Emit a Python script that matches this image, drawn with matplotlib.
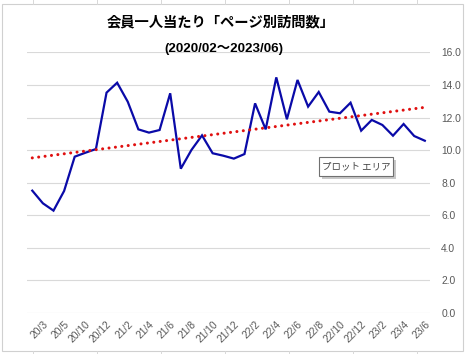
import numpy as np
import matplotlib
matplotlib.use('Agg')
import matplotlib.pyplot as plt
from matplotlib.patches import Rectangle

# monthly values, 2020/02 - 2023/06 (one month between 20/5 and 20/10 only)
months = ["20/2", "20/3", "20/4", "20/5", "20/9", "20/10", "20/11", "20/12",
          "21/1", "21/2", "21/3", "21/4", "21/5", "21/6", "21/7", "21/8",
          "21/9", "21/10", "21/11", "21/12", "22/1", "22/2", "22/3", "22/4",
          "22/5", "22/6", "22/7", "22/8", "22/9", "22/10", "22/11", "22/12",
          "23/1", "23/2", "23/3", "23/4", "23/5", "23/6"]
visits = [7.50, 6.72, 6.27, 7.48, 9.59, 9.83, 10.06, 13.53,
          14.14, 12.97, 11.27, 11.07, 11.23, 13.49, 8.85, 10.00,
          10.90, 9.80, 9.65, 9.47, 9.75, 12.87, 11.27, 14.47,
          11.89, 14.31, 12.67, 13.57, 12.36, 12.26, 12.91, 11.19,
          11.85, 11.54, 10.88, 11.60, 10.86, 10.57]
yticks = [0, 2, 4, 6, 8, 10, 12, 14, 16]

title = "会員一人当たり「ページ別訪問数」"
subtitle = "(2020/02〜2023/06)"

fig = plt.figure(figsize=(4.65, 3.54), dpi=100)
ax = fig.add_axes([0.058, 0.1172, 0.867, 0.7345])

x = np.arange(len(visits))
ax.plot(x, visits, color="#0A0AA8", linewidth=1.6, solid_joinstyle="miter", zorder=3)

# linear trend line
k, b = np.polyfit(x, visits, 1)
ax.plot(x, k * x + b, color="#E01010", linewidth=2.2, linestyle=(0, (0.01, 2.1)),
        dash_capstyle="round", zorder=4)

ax.set_xlim(-0.5, len(visits) - 0.5)
ax.set_ylim(0, 16)
ax.set_yticks(yticks)
ax.set_yticklabels(["%.1f" % v for v in yticks])
ax.yaxis.tick_right()
ax.grid(axis="y", color="#D9D9D9", linewidth=0.8)
ax.set_axisbelow(True)

ax.set_xticks(x[1::2])
ax.set_xticklabels(months[1::2], rotation=45, ha="right", va="top",
                   rotation_mode="anchor")
ax.tick_params(axis="both", length=0, colors="#595959", labelsize=7.4)
ax.tick_params(axis="y", pad=8)
ax.tick_params(axis="x", pad=5)
for lab in ax.get_xticklabels() + ax.get_yticklabels():
    lab.set_family(["Liberation Sans", "DejaVu Sans"])
for s in ax.spines.values():
    s.set_visible(False)

fig.text(0.474, 0.936, title, ha="center", va="center", fontsize=10.3,
         fontweight="bold", family=["Noto Sans CJK JP", "DejaVu Sans"])
fig.text(0.482, 0.862, subtitle, ha="center", va="center", fontsize=9.6,
         fontweight="bold", family=["Liberation Sans", "Noto Sans CJK JP"])

# "plot area" tooltip with a soft shadow
fig.patches.append(Rectangle((322 / 465, 1 - 179 / 354), 74 / 465, 19 / 354,
                             transform=fig.transFigure, fc="#C8C8C8", ec="none",
                             zorder=9))
fig.patches.append(Rectangle((319 / 465, 1 - 176 / 354), 74 / 465, 19 / 354,
                             transform=fig.transFigure, fc="white", ec="#707070",
                             lw=0.8, zorder=10))
fig.text(356 / 465, 1 - 166.5 / 354, "プロット エリア", ha="center", va="center",
         fontsize=6.8, color="#404040", zorder=11,
         family=["Noto Sans CJK JP", "DejaVu Sans"])

# chart area border and faint sheet cell lines
fig.patches.append(Rectangle((2 / 465, 3.5 / 354), 461 / 465, 347 / 354,
                             transform=fig.transFigure, fill=False,
                             ec="#D0D0D0", lw=0.8))
for cx in [33, 97, 161, 225, 289, 353, 417]:
    fig.add_artist(plt.Line2D([cx / 465, cx / 465], [0, 3.5 / 354], color="#D8D8D8", lw=0.7))
    fig.add_artist(plt.Line2D([cx / 465, cx / 465], [1, 1 - 3.5 / 354], color="#D8D8D8", lw=0.7))

fig.savefig("out.png", dpi=100, facecolor="white")
